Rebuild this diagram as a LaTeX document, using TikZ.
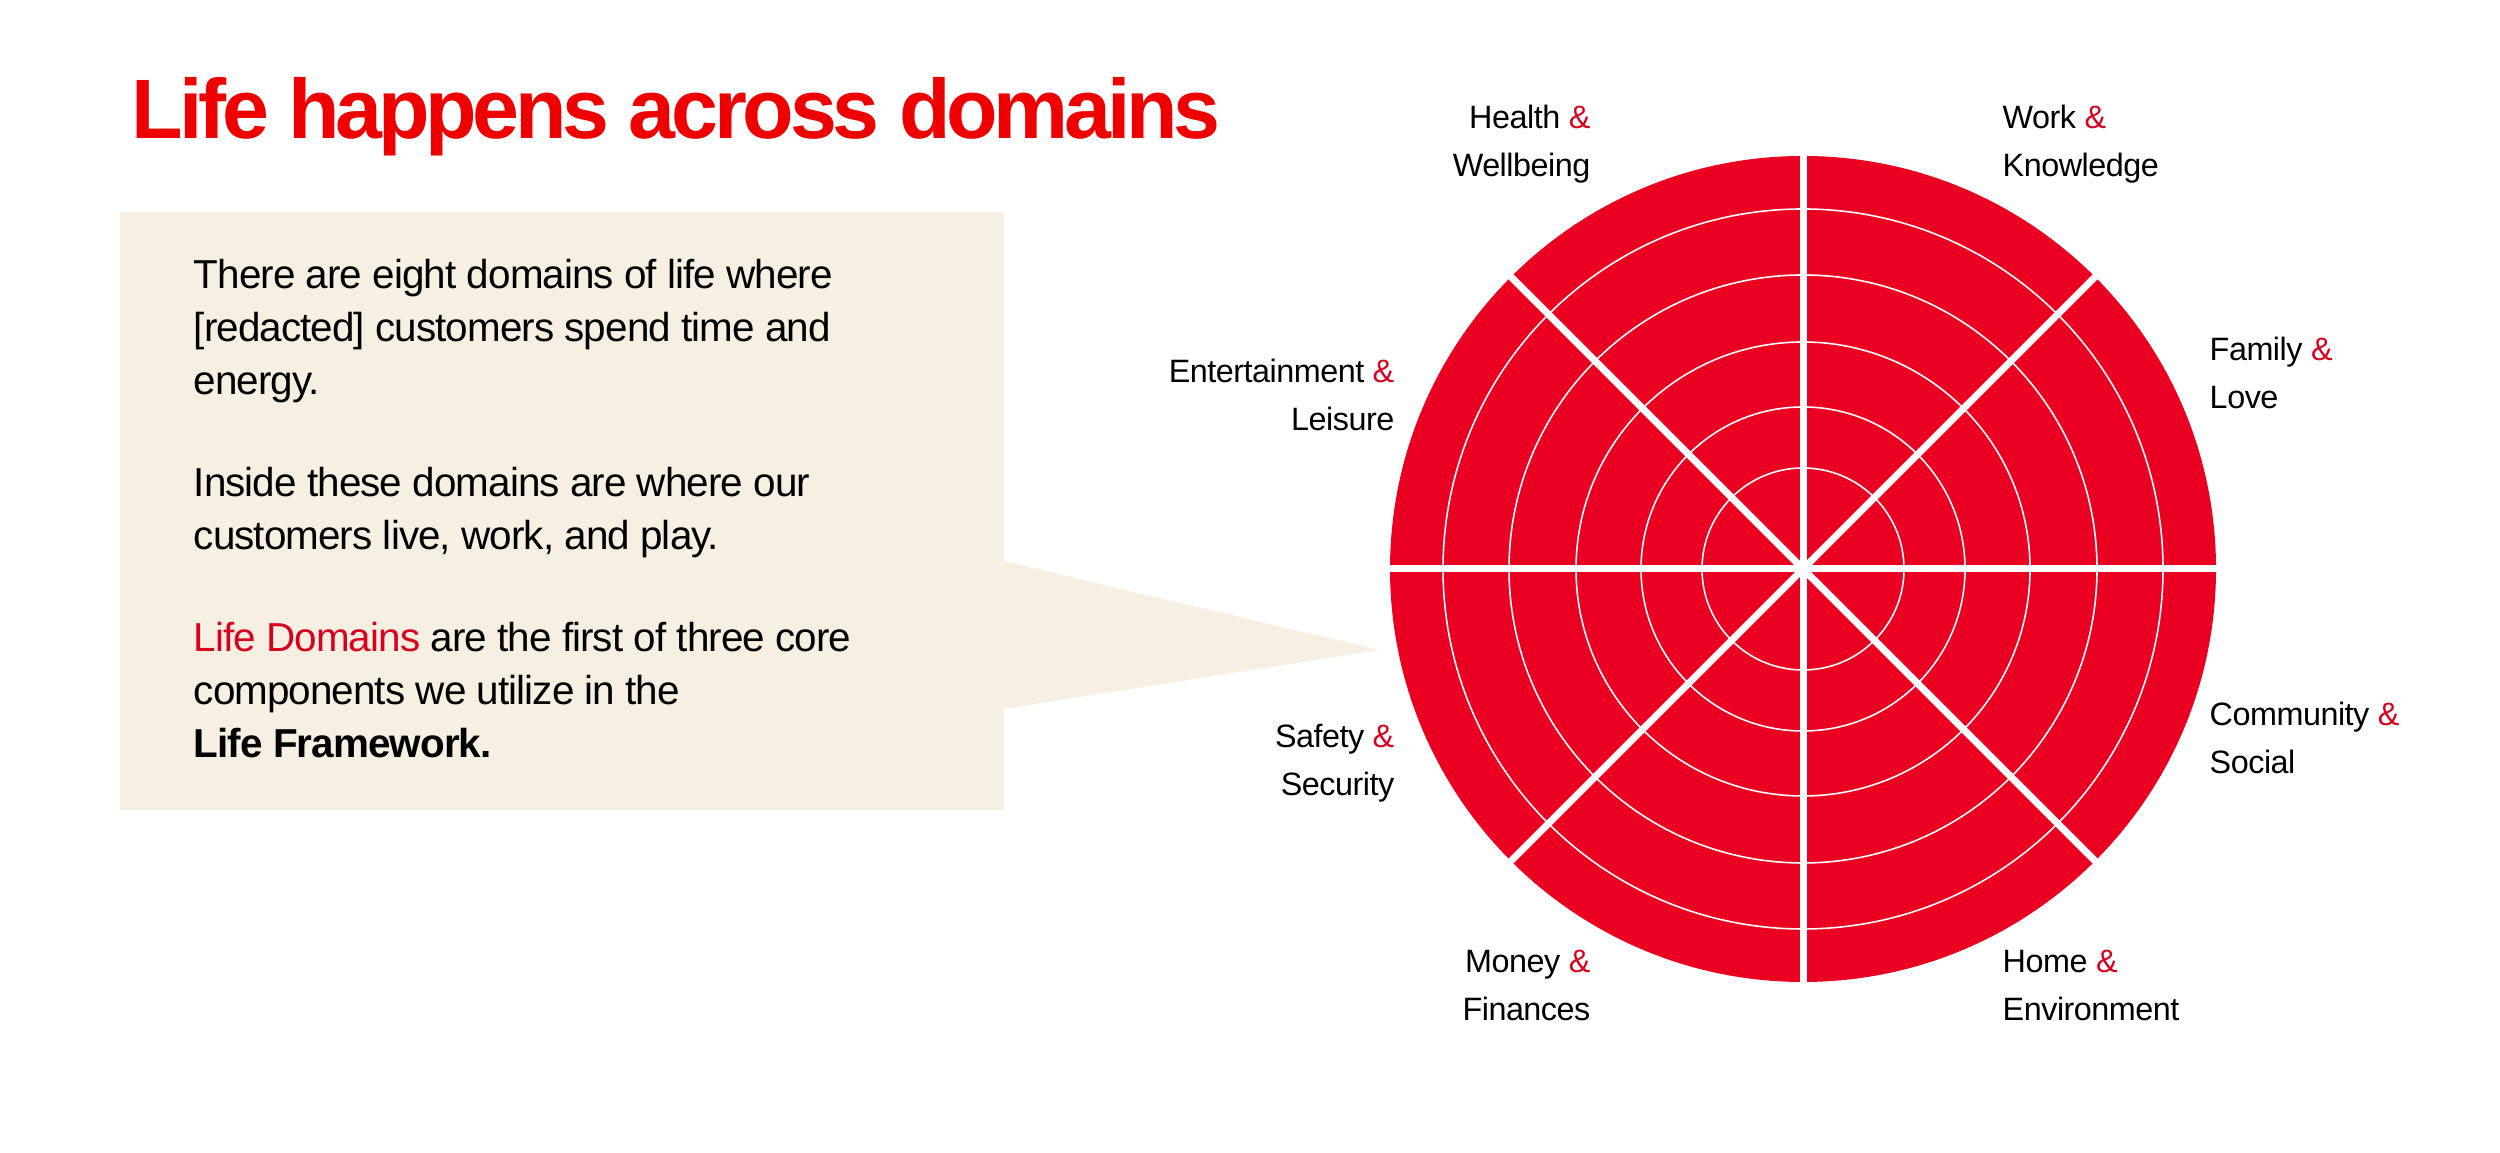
\documentclass[tikz,border=0pt]{standalone}
\usepackage{fontspec}
\setmainfont{Liberation Sans}
\newfontfamily\titlefont[LetterSpace=-5]{Liberation Sans}
\newfontfamily\bodyfont[LetterSpace=-2.3]{Liberation Sans}
\newfontfamily\lblfont[LetterSpace=-1.5]{Liberation Sans}
\definecolor{vzred}{HTML}{EE0000}
\definecolor{wheelred}{HTML}{EA0020}
\definecolor{ampred}{HTML}{D8001F}
\definecolor{boxbeige}{HTML}{F6EFE2}
\newcommand\redamp{\textcolor{ampred}{\&}}

\begin{document}
\begin{tikzpicture}
\tikzset{dom/.style={font=\lblfont\fontsize{9.2}{13.9}\selectfont, inner sep=0pt},
    domL/.style={dom, anchor=base east, align=right},
    domR/.style={dom, anchor=base west, align=left}}

\useasboundingbox (0,0) rectangle (25,11.53);
\fill[white] (0,0) rectangle (25,11.53);

% Title
\node[anchor=base west, inner sep=0pt, text=vzred,
    font=\titlefont\bfseries\fontsize{24}{28}\selectfont] (title) at (1.31,10.14)
    {Life happens across domains};

% Callout box and its pointer
\fill[boxbeige] (1.20,3.43) rectangle (10.04,9.41);
\fill[boxbeige] (10.03,5.92) -- (13.79,5.03) -- (10.03,4.44) -- cycle;

% base anchor sits on the last line
\node[anchor=base west, inner sep=0pt, align=left,
    font=\bodyfont\fontsize{11.5}{15.1}\selectfont] (intro) at (1.93,3.95)
    {There are eight domains of life where\\
     {[redacted]} customers spend time and\\
     energy.\\[14pt]
     Inside these domains are where our\\
     customers live, work, and play.\\[14pt]
     \textcolor{ampred}{Life Domains} are the first of three core\\
     components we utilize in the\\
     \textbf{Life Framework.}};

% Wheel: disc, rings, spokes
\begin{scope}[shift={(18.03,5.84)}]
\fill[wheelred] (0,0) circle (4.13);
\foreach \r in {1.01,1.62,2.27,2.94,3.60}
    \draw[white, line width=0.45pt] (0,0) circle (\r);
\foreach \a in {0,45,90,135}
    \draw[white, line width=2pt] (\a:4.2) -- (\a+180:4.2);
\end{scope}

% Domain labels
\node[domL] (health) at (15.91,9.76) {Health \redamp\\Wellbeing};
\node[domR] (work) at (20.02,9.76) {Work \redamp\\Knowledge};
\node[domR] (family) at (22.09,7.44) {Family \redamp\\Love};
\node[domR] (community) at (22.09,3.79) {Community \redamp\\Social};
\node[domR] (home) at (20.02,1.32) {Home \redamp\\Environment};
\node[domL] (money) at (15.91,1.32) {Money \redamp\\Finances};
\node[domL] (safety) at (13.95,3.57) {Safety \redamp\\Security};
\node[domL] (entertain) at (13.95,7.22) {Entertainment \redamp\\Leisure};

\end{tikzpicture}
\end{document}
